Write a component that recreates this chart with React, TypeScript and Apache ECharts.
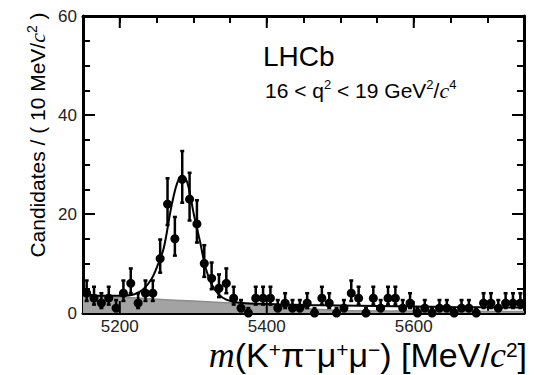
import React, { useEffect, useRef } from "react";
import * as echarts from "echarts";

// Bin centres (10 MeV/c^2 bins) and candidate counts
const binCenters = [
  5155, 5165, 5175, 5185, 5195, 5205, 5215, 5225, 5235, 5245,
  5255, 5265, 5275, 5285, 5295, 5305, 5315, 5325, 5335, 5345,
  5355, 5365, 5375, 5385, 5395, 5405, 5415, 5425, 5435, 5445,
  5455, 5465, 5475, 5485, 5495, 5505, 5515, 5525, 5535, 5545,
  5555, 5565, 5575, 5585, 5595, 5605, 5615, 5625, 5635, 5645,
  5655, 5665, 5675, 5685, 5695, 5705, 5715, 5725, 5735, 5745,
];
const counts = [
  4, 3, 2, 3, 1, 4, 6, 2, 4, 4,
  11, 22, 15, 27, 23, 18, 10, 7, 5, 6,
  3, 1, 0, 3, 3, 3, 1, 2, 1, 1,
  2, 0, 3, 2, 0, 1, 4, 3, 0, 3,
  1, 3, 3, 1, 2, 0, 1, 0, 1, 1,
  0, 1, 1, 0, 2, 2, 1, 2, 2, 2,
];

// Total fit curve
const fitMass = [5150, 5175, 5200, 5220, 5232, 5243, 5252, 5260, 5270, 5278, 5285, 5292, 5301, 5310, 5316, 5325, 5335, 5345, 5360, 5400, 5450, 5550, 5650, 5750];
const fitTotal = [3.8, 3.5, 3.5, 3.8, 4.8, 6.8, 9.8, 13.2, 21.3, 26.2, 27.8, 26.3, 19.8, 13.9, 9.6, 5.8, 3.7, 2.7, 2.1, 1.8, 1.6, 1.4, 1.2, 1.1];

// Grey shaded background component
const bkgMass = [5150, 5200, 5250, 5300, 5350, 5400, 5450, 5500, 5600, 5750];
const bkgValues = [3.5, 3.2, 2.8, 2.4, 2.0, 1.5, 0.9, 0.5, 0.4, 0.3];

// Axis ranges and tick labels
const xMin = 5150;
const xMax = 5750;
const xMinorStep = 50;
const xLabels = [5200, 5400, 5600];
const yMin = 0;
const yMax = 60;
const yMajorStep = 20;
const yMinorStep = 5;

const SANS = "'Liberation Sans', Arial, Helvetica, sans-serif";
const SERIF = "'Liberation Serif', 'Times New Roman', serif";

const MAJOR = 12;
const MINOR = 7;

export default function App() {
  const ref = useRef<HTMLDivElement>(null);

  useEffect(() => {
    if (!ref.current) return;
    const chart = echarts.init(ref.current, undefined, { renderer: "svg" });

    const points = binCenters.map((m, i) => [m, counts[i]]);
    const errs = binCenters.map((m, i) => {
      const n = counts[i];
      const d = Math.sqrt(n + 0.25);
      const lo = n > 0 ? n - (d - 0.5) : 0;
      const hi = n + d + 0.5;
      return [m, lo, hi];
    });

    const texts: any[] = [
      {
        type: "text",
        x: 37,
        y: 135,
        rotation: Math.PI / 2,
        style: {
          text: "{n|Candidates / ( 10 MeV/}{i|c}{s|2}{n| )}",
          align: "center",
          verticalAlign: "middle",
          rich: {
            n: { fontSize: 21, fontFamily: SANS, color: "#111", lineHeight: 24 },
            i: { fontSize: 22, fontFamily: SERIF, fontStyle: "italic", color: "#111", lineHeight: 24 },
            s: { fontSize: 14, fontFamily: SANS, color: "#111", verticalAlign: "top", lineHeight: 15 },
          },
        },
      },
      {
        type: "text",
        x: 263,
        y: 56,
        style: { text: "LHCb", fontSize: 28, fontFamily: SANS, fill: "#000", align: "left", verticalAlign: "middle" },
      },
      {
        type: "text",
        x: 265,
        y: 90,
        style: {
          text: "{n|16 < q}{s|2}{n| < 19 GeV}{s|2}{n|/}{i|c}{s|4}",
          align: "left",
          verticalAlign: "middle",
          rich: {
            n: { fontSize: 21, fontFamily: SANS, color: "#000", lineHeight: 24 },
            i: { fontSize: 22, fontFamily: SERIF, fontStyle: "italic", color: "#000", lineHeight: 24 },
            s: { fontSize: 13, fontFamily: SANS, color: "#000", verticalAlign: "top", lineHeight: 14 },
          },
        },
      },
      {
        type: "text",
        x: 527,
        y: 355,
        style: {
          text: "{i|m}{n|(K}{s|+}{n|π}{s|−}{n|μ}{s|+}{n|μ}{s|−}{n|) [MeV/}{i|c}{s|2}{n|]}",
          align: "right",
          verticalAlign: "middle",
          rich: {
            n: { fontSize: 34, fontFamily: SANS, color: "#000", lineHeight: 32 },
            i: { fontSize: 36, fontFamily: SERIF, fontStyle: "italic", color: "#000", lineHeight: 32 },
            s: { fontSize: 21, fontFamily: SANS, color: "#000", verticalAlign: "top", lineHeight: 18 },
          },
        },
      },
    ];

    const axisLine = { show: true, onZero: false, lineStyle: { color: "#000", width: 3 } };
    const tickLine = { color: "#000", width: 2 };
    const emptyLabel = { show: true, formatter: () => "", fontSize: 1 };

    chart.setOption({
      animation: false,
      backgroundColor: "#fff",
      grid: { left: 83, right: 2, top: 16, bottom: 62, containLabel: false },
      xAxis: [
        {
          type: "value",
          position: "bottom",
          min: xMin,
          max: xMax,
          interval: xMinorStep,
          axisLine,
          axisTick: { show: true, inside: true, length: MINOR, lineStyle: tickLine },
          axisLabel: {
            show: true,
            fontSize: 17,
            color: "#222",
            fontFamily: SANS,
            margin: 5,
            showMinLabel: true,
            showMaxLabel: true,
            hideOverlap: false,
            formatter: (v: number) => (xLabels.indexOf(v) >= 0 ? String(v) : ""),
          },
          splitLine: { show: false },
        },
        {
          type: "value",
          position: "top",
          min: xMin,
          max: xMax,
          interval: xMinorStep,
          axisLine,
          axisTick: { show: true, inside: true, length: MINOR, lineStyle: tickLine },
          axisLabel: emptyLabel,
          splitLine: { show: false },
        },
      ],
      yAxis: [
        {
          type: "value",
          position: "left",
          min: yMin,
          max: yMax,
          interval: yMajorStep,
          axisLine,
          axisTick: { show: true, inside: true, length: MAJOR, lineStyle: tickLine },
          minorTick: { show: true, splitNumber: yMajorStep / yMinorStep, length: MINOR, lineStyle: tickLine },
          axisLabel: { show: true, fontSize: 17, color: "#222", fontFamily: SANS, margin: 6 },
          splitLine: { show: false },
        },
        {
          type: "value",
          position: "right",
          min: yMin,
          max: yMax,
          interval: yMajorStep,
          axisLine,
          axisTick: { show: true, inside: true, length: MAJOR, lineStyle: tickLine },
          minorTick: { show: true, splitNumber: yMajorStep / yMinorStep, length: MINOR, lineStyle: tickLine },
          axisLabel: emptyLabel,
          splitLine: { show: false },
        },
      ],
      series: [
        {
          type: "line",
          xAxisIndex: 0,
          yAxisIndex: 0,
          data: bkgMass.map((m, i) => [m, bkgValues[i]]),
          smooth: 0.3,
          symbol: "none",
          lineStyle: { color: "#8c8c8c", width: 1.5 },
          areaStyle: { color: "#a3a3a3", opacity: 1 },
          z: 1,
        },
        {
          type: "line",
          xAxisIndex: 0,
          yAxisIndex: 0,
          data: fitMass.map((m, i) => [m, fitTotal[i]]),
          smooth: 0.35,
          symbol: "none",
          lineStyle: { color: "#000", width: 2 },
          z: 2,
        },
        {
          type: "custom",
          xAxisIndex: 0,
          yAxisIndex: 0,
          data: errs,
          dimensions: ["m", "lo", "hi"],
          encode: { x: 0, y: [1, 2] },
          renderItem: (params: any, api: any) => {
            const x = api.value(0);
            const p1 = api.coord([x, api.value(1)]);
            const p2 = api.coord([x, api.value(2)]);
            const st = { stroke: "#000", lineWidth: 2.5 };
            return {
              type: "group",
              children: [
                { type: "line", shape: { x1: p1[0], y1: p1[1], x2: p2[0], y2: p2[1] }, style: st },
                { type: "line", shape: { x1: p1[0] - 2, y1: p1[1], x2: p1[0] + 2, y2: p1[1] }, style: st },
                { type: "line", shape: { x1: p2[0] - 2, y1: p2[1], x2: p2[0] + 2, y2: p2[1] }, style: st },
              ],
            };
          },
          z: 3,
        },
        {
          type: "scatter",
          xAxisIndex: 0,
          yAxisIndex: 0,
          data: points,
          symbol: "circle",
          symbolSize: 9,
          itemStyle: { color: "#000", opacity: 1 },
          z: 4,
        },
      ],
      graphic: texts,
    });

    // longer x-axis major ticks (bottom and top) at the labelled values, via the chart's scales
    const ticks: any[] = [];
    for (const v of xLabels) {
      const b = chart.convertToPixel({ xAxisIndex: 0, yAxisIndex: 0 }, [v, yMin]) as number[];
      const t = chart.convertToPixel({ xAxisIndex: 0, yAxisIndex: 0 }, [v, yMax]) as number[];
      if (!b || !t) continue;
      ticks.push({ type: "line", z: 50, shape: { x1: b[0], y1: b[1], x2: b[0], y2: b[1] - MAJOR }, style: { stroke: "#000", lineWidth: 2 } });
      ticks.push({ type: "line", z: 50, shape: { x1: t[0], y1: t[1], x2: t[0], y2: t[1] + MAJOR }, style: { stroke: "#000", lineWidth: 2 } });
    }
    chart.setOption({ graphic: [...texts, ...ticks] });

    return () => chart.dispose();
  }, []);

  return (
    <div
      ref={ref}
      style={{ position: "fixed", left: 0, top: 0, width: 535, height: 375, background: "#fff" }}
    />
  );
}
